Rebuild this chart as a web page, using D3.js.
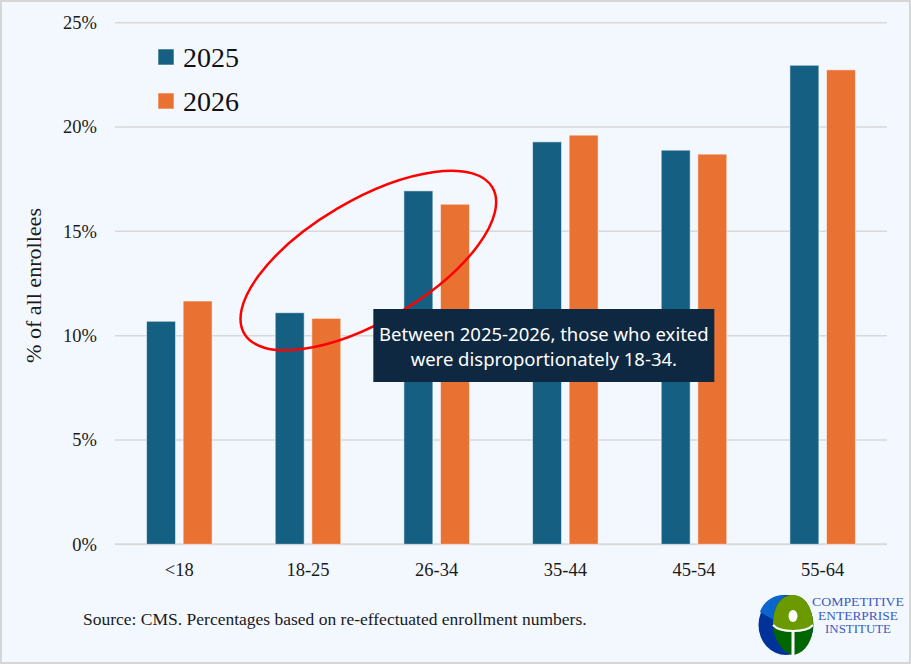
<!DOCTYPE html>
<html>
<head>
<meta charset="utf-8">
<script src="https://cdn.jsdelivr.net/npm/d3@7"></script>
<style>
  html, body { margin: 0; padding: 0; background: #ffffff; }
  svg { display: block; }
</style>
</head>
<body>
<svg id="chart"></svg>
<script>
const ageGroups = ["<18", "18-25", "26-34", "35-44", "45-54", "55-64"];
const years = ["2025", "2026"];
const share2025 = [10.69, 11.10, 16.94, 19.29, 18.89, 22.96];
const share2026 = [11.66, 10.83, 16.30, 19.61, 18.70, 22.74];
const yTicks = [0, 5, 10, 15, 20, 25];

const colors = { "2025": "#156082", "2026": "#e97132" };
const serif = "'Palatino Linotype', 'Book Antiqua', Palatino, 'Liberation Serif', serif";

const width = 911;
const height = 664;
const margin = { top: 22.7, right: 24, bottom: 119.7, left: 115 };

const rows = ageGroups.map((g, i) => ({ group: g, values: [share2025[i], share2026[i]] }));

const svg = d3.select("#chart")
  .attr("width", width)
  .attr("height", height);

// background + thin frame
svg.append("rect")
  .attr("x", 1).attr("y", 1)
  .attr("width", width - 2).attr("height", height - 2)
  .attr("fill", "#f3f7fe")
  .attr("stroke", "#d6d6d6")
  .attr("stroke-width", 2);

const x0 = d3.scaleBand()
  .domain(ageGroups)
  .range([margin.left, width - margin.right]);

const x1 = d3.scaleBand()
  .domain(years)
  .range([0, x0.bandwidth()])
  .paddingInner(0.208)
  .paddingOuter(0.862);

const y = d3.scaleLinear()
  .domain([0, 25])
  .range([height - margin.bottom, margin.top]);

// gridlines
svg.append("g")
  .selectAll("line")
  .data(yTicks)
  .enter()
  .append("line")
  .attr("x1", margin.left)
  .attr("x2", width - margin.right)
  .attr("y1", d => y(d))
  .attr("y2", d => y(d))
  .attr("stroke", "#d9d9d9")
  .attr("stroke-width", d => d === 0 ? 2 : 1.5);

// y axis labels
const yAxis = svg.append("g")
  .attr("transform", `translate(${margin.left - 18},0)`)
  .call(d3.axisLeft(y).tickValues(yTicks).tickSize(0).tickPadding(0).tickFormat(d => d + "%"));
yAxis.select(".domain").remove();
yAxis.selectAll("text")
  .attr("font-family", serif)
  .attr("font-size", 18.5)
  .attr("fill", "#1a1a1a");

// x axis labels
const xAxis = svg.append("g")
  .attr("transform", `translate(0,${height - margin.bottom})`)
  .call(d3.axisBottom(x0).tickSize(0).tickPadding(19));
xAxis.select(".domain").remove();
xAxis.selectAll("text")
  .attr("font-family", serif)
  .attr("font-size", 18.5)
  .attr("fill", "#1a1a1a");

// bars
svg.append("g")
  .selectAll("g")
  .data(rows)
  .enter()
  .append("g")
  .attr("transform", d => `translate(${x0(d.group)},0)`)
  .selectAll("rect")
  .data(d => d.values.map((v, i) => ({ year: years[i], value: v })))
  .enter()
  .append("rect")
  .attr("x", d => x1(d.year))
  .attr("y", d => y(d.value))
  .attr("width", x1.bandwidth())
  .attr("height", d => y(0) - y(d.value))
  .attr("fill", d => colors[d.year])
  .attr("stroke", "#ffffff")
  .attr("stroke-opacity", 0.55)
  .attr("stroke-width", 1);

// y title
svg.append("text")
  .attr("transform", `translate(41,285.5) rotate(-90)`)
  .attr("text-anchor", "middle")
  .attr("font-family", serif)
  .attr("font-size", 20)
  .attr("textLength", 155)
  .attr("lengthAdjust", "spacingAndGlyphs")
  .attr("fill", "#1a1a1a")
  .text("% of all enrollees");

// legend
const legend = svg.append("g")
  .selectAll("g")
  .data(years)
  .enter()
  .append("g")
  .attr("transform", (d, i) => `translate(158,${49 + i * 44})`);
legend.append("rect")
  .attr("width", 16).attr("height", 16)
  .attr("fill", d => colors[d])
  .attr("stroke", "#ffffff")
  .attr("stroke-opacity", 0.55);
legend.append("text")
  .attr("x", 25)
  .attr("y", 18)
  .attr("font-family", serif)
  .attr("font-size", 28)
  .attr("fill", "#111111")
  .text(d => d);

// red ellipse around the 18-34 groups
svg.append("ellipse")
  .attr("cx", x0("26-34") - 4)
  .attr("cy", y(13.6))
  .attr("rx", 144)
  .attr("ry", 60.5)
  .attr("transform", `rotate(-30.5,${x0("26-34") - 4},${y(13.6)})`)
  .attr("fill", "none")
  .attr("stroke", "#ff0000")
  .attr("stroke-width", 2.5);

// callout box
const note = svg.append("g").attr("transform", `translate(${x0("26-34") + 1},309)`);
note.append("rect")
  .attr("width", 341)
  .attr("height", 73)
  .attr("fill", "#0e2841");
note.selectAll("text")
  .data(["Between 2025-2026, those who exited", "were disproportionately 18-34."])
  .enter()
  .append("text")
  .attr("x", 170.5)
  .attr("y", (d, i) => 32 + i * 25)
  .attr("text-anchor", "middle")
  .attr("font-family", "'Noto Sans', 'Open Sans', sans-serif")
  .attr("font-size", 18.5)
  .attr("fill", "#ffffff")
  .text(d => d);

// source
svg.append("text")
  .attr("x", 83)
  .attr("y", 625)
  .attr("font-family", serif)
  .attr("font-size", 17.5)
  .attr("fill", "#1a1a1a")
  .text("Source: CMS. Percentages based on re-effectuated enrollment numbers.");

// logo
const logo = svg.append("g").attr("transform", "translate(786,625)");
logo.append("ellipse").attr("rx", 27.5).attr("ry", 30).attr("fill", "#003399");
logo.append("path")
  .attr("d", "M-4,-30 C-15,-29 -23,-22 -26,-13 L-12,-5 C-12,-15 -8,-24 0,-29.5 Z")
  .attr("fill", "#0a66cc");
logo.append("path")
  .attr("d", "M6,-30 C20,-30 27,-15 27,0 C27,15 20,27 8,30 C-4,28 -13,14 -13,-2 C-13,-18 -6,-29 6,-30 Z")
  .attr("fill", "#006600");
logo.append("path")
  .attr("d", "M6,-30 C20,-30 27,-15 27,0 C20,8 -6,8 -13,0 C-13,-18 -6,-29 6,-30 Z")
  .attr("fill", "#6a9a00");
logo.append("path")
  .attr("d", "M-13,0 C-6,8 20,8 27,0")
  .attr("fill", "none")
  .attr("stroke", "#ffffff")
  .attr("stroke-width", 2);
logo.append("line")
  .attr("x1", 7).attr("x2", 7).attr("y1", 6).attr("y2", 30)
  .attr("stroke", "#ffffff")
  .attr("stroke-width", 3);
logo.append("ellipse")
  .attr("cx", 7).attr("cy", -9).attr("rx", 4.5).attr("ry", 6)
  .attr("fill", "#ffffff");
logo.selectAll("text")
  .data([["COMPETITIVE", 92], ["ENTERPRISE", 80], ["INSTITUTE", 66]])
  .enter()
  .append("text")
  .attr("x", 72)
  .attr("y", (d, i) => -19 + i * 13.5)
  .attr("text-anchor", "middle")
  .attr("font-family", "'Liberation Serif', serif")
  .attr("font-size", 12.5)
  .attr("textLength", d => d[1])
  .attr("lengthAdjust", "spacingAndGlyphs")
  .attr("fill", "#3a5cc0")
  .text(d => d[0]);
</script>
</body>
</html>
